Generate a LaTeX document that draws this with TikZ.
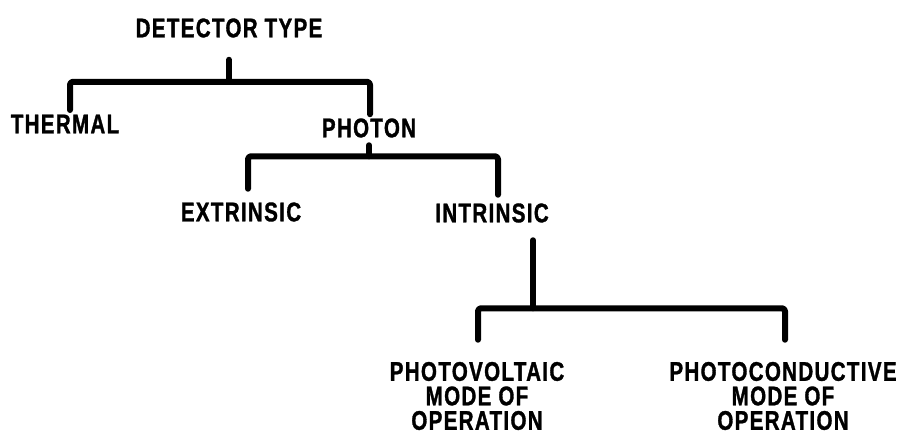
\documentclass[tikz,border=0pt]{standalone}
\usepackage{fontspec}
\newfontfamily\lettering[FakeStretch=0.76,LetterSpace=5,FakeBold=1.2]{Liberation Sans}
\begin{document}
\begin{tikzpicture}[x=1pt,y=1pt,
  lbl/.style={inner sep=0pt, align=center,
    font=\lettering\bfseries\fontsize{27}{24.5}\selectfont},
  bracket/.style={line width=6pt, line cap=round, line join=round,
    rounded corners=3pt}]
\useasboundingbox (0,0) rectangle (902,-434);

% labels
\node[lbl] (dt)      at (229,-28)  {DETECTOR TYPE};
\node[lbl] (thermal) at (65,-124)  {THERMAL};
\node[lbl] (photon)  at (369,-128) {PHOTON};
\node[lbl] (extr)    at (241,-212) {EXTRINSIC};
\node[lbl] (intr)    at (492,-213) {INTRINSIC};
\node[lbl] (pv)      at (477,-396) {PHOTOVOLTAIC\\MODE OF\\OPERATION};
\node[lbl] (pc)      at (783,-396) {PHOTOCONDUCTIVE\\MODE OF\\OPERATION};

% detector type -> thermal / photon
\draw[bracket] ([yshift=-22]dt.south) -- ++(0,-22) coordinate (j1);
\draw[bracket] ([xshift=5,yshift=4.5]thermal.north) |- (j1)
               -| ([xshift=1,yshift=4]photon.north);

% photon -> extrinsic / intrinsic
\draw[bracket] ([yshift=-7.5]photon.south) -- ++(0,-11) coordinate (j2);
\draw[bracket] ([xshift=7,yshift=13.5]extr.north) |- (j2)
               -| ([xshift=6,yshift=8.5]intr.north);

% intrinsic -> photovoltaic / photoconductive
\draw[bracket] ([xshift=41,yshift=-17.5]intr.south) -- ++(0,-68) coordinate (j3);
\draw[bracket] ([xshift=1,yshift=22]pv.north) |- (j3)
               -| ([xshift=2,yshift=22]pc.north);
\end{tikzpicture}
\end{document}
